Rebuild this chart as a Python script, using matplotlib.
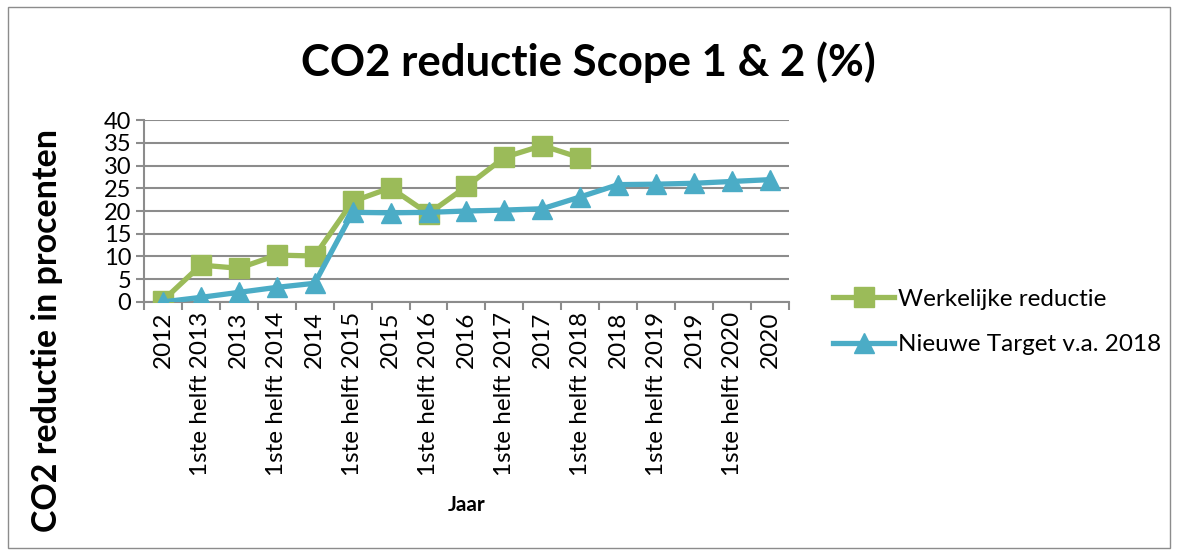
import matplotlib
matplotlib.use("Agg")
import matplotlib.pyplot as plt
from matplotlib.patches import Rectangle
import numpy as np

plt.rcParams["font.family"] = ["Lato", "DejaVu Sans"]

categories = [
    "2012", "1ste helft 2013", "2013", "1ste helft 2014", "2014",
    "1ste helft 2015", "2015", "1ste helft 2016", "2016", "1ste helft 2017",
    "2017", "1ste helft 2018", "2018", "1ste helft 2019", "2019",
    "1ste helft 2020", "2020",
]
werkelijk = [0.3, 8.1, 7.4, 10.3, 10.1, 22.1, 25.1, 19.4, 25.4, 31.8, 34.4, 31.7]
target = [0, 1.0, 2.1, 3.2, 4.1, 19.7, 19.6, 19.7, 20.0, 20.2, 20.5, 23.1,
          25.8, 25.9, 26.1, 26.5, 26.9]
yticks = [0, 5, 10, 15, 20, 25, 30, 35, 40]

green = "#9BBB59"
blue = "#4BACC6"
grid_c = "#8C8C8C"

fig = plt.figure(figsize=(11.77, 5.56), dpi=100)
fig.patches.append(Rectangle((0.007, 0.015), 0.987, 0.972, transform=fig.transFigure,
                             fill=False, edgecolor="#8C8C8C", linewidth=1))
ax = fig.add_axes([0.1223, 0.457, 0.548, 0.327])

x = np.arange(len(categories))
ax.plot(x[:len(werkelijk)], werkelijk, color=green, linewidth=3.8, marker="s",
        markersize=14, label="Werkelijke reductie", zorder=3)
ax.plot(x, target, color=blue, linewidth=3.8, marker="^", markersize=15,
        label="Nieuwe Target v.a. 2018", zorder=4)

ax.set_xlim(-0.5, len(categories) - 0.5)
ax.set_ylim(0, 40)
ax.set_yticks(yticks)
ax.set_yticklabels([str(v) for v in yticks], fontsize=17)
ax.set_xticks(x)
ax.set_xticklabels(categories, rotation=90, fontsize=17.5, ha="center", va="top")
ax.tick_params(axis="x", length=0, pad=7)
ax.set_xticks(np.arange(-0.5, len(categories)), minor=True)
ax.tick_params(axis="x", which="minor", length=6, color=grid_c, width=1.5)
ax.tick_params(axis="y", length=6, color=grid_c, width=1.5, pad=3)
ax.yaxis.grid(True, color=grid_c, linewidth=1.5)
ax.set_axisbelow(True)
for s in ["top", "right"]:
    ax.spines[s].set_visible(False)
for s in ["left", "bottom"]:
    ax.spines[s].set_color(grid_c)
    ax.spines[s].set_linewidth(1.5)

ax.set_xlabel("Jaar", fontsize=15, fontweight="bold", labelpad=14)
ax.set_ylabel("CO2 reductie in procenten", fontsize=24.5, fontweight="bold")
ax.yaxis.set_label_coords(-0.125, -0.155)

fig.text(0.5, 0.888, "CO2 reductie Scope 1 & 2 (%)", ha="center", va="center",
         fontsize=31.5, fontweight="bold")

leg = ax.legend(loc="center left", bbox_to_anchor=(1.035, -0.11), frameon=False,
                fontsize=17.5, handlelength=2.5, labelspacing=1.0, handletextpad=0.15)

fig.savefig("out.png", dpi=100)
